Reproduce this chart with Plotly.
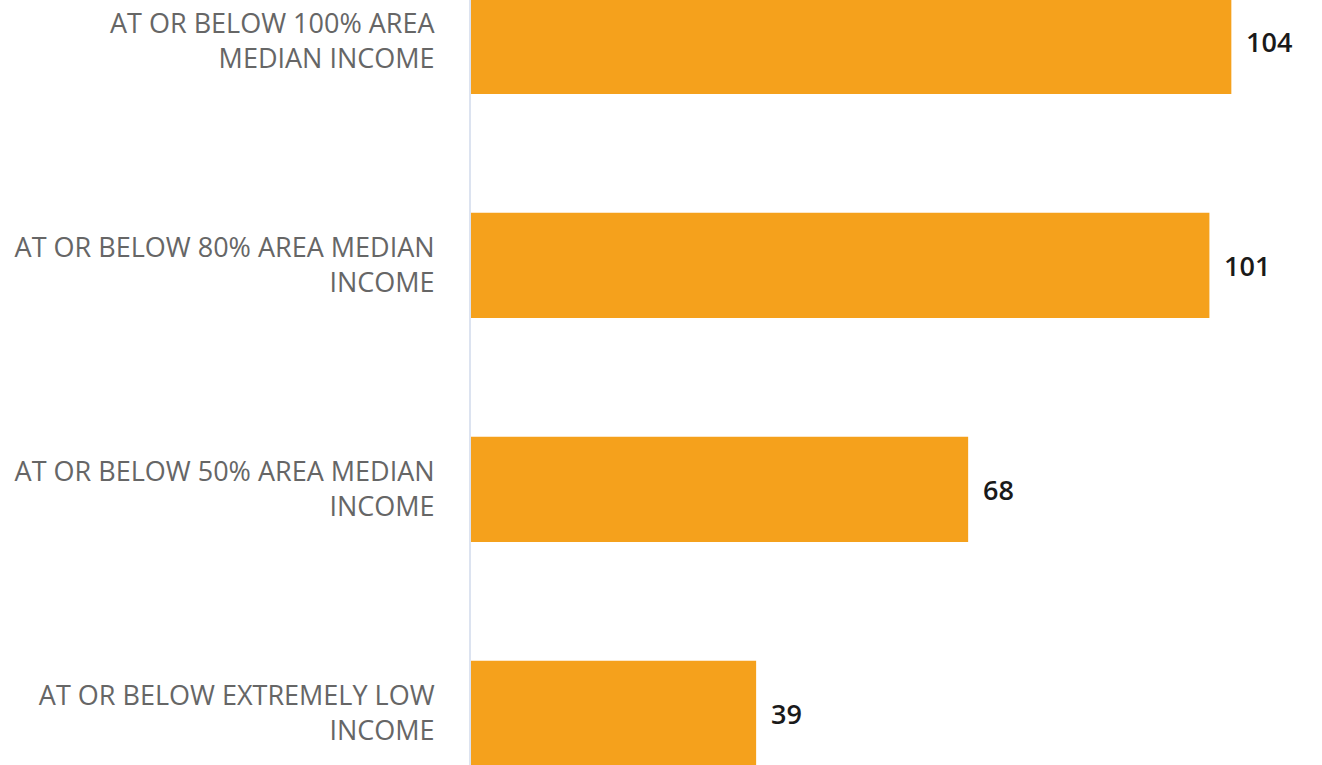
import plotly.graph_objects as go

# categories bottom -> top
categories = [
    "AT OR BELOW EXTREMELY LOW<br>INCOME",
    "AT OR BELOW 50% AREA MEDIAN<br>INCOME",
    "AT OR BELOW 80% AREA MEDIAN<br>INCOME",
    "AT OR BELOW 100% AREA<br>MEDIAN INCOME",
]
values = [39, 68, 101, 104]

BAR_COLOR = "#F5A11C"
LABEL_COLOR = "#666666"
VALUE_COLOR = "#1a1a1a"
FONT = "Open Sans, DejaVu Sans, sans-serif"

fig = go.Figure()
fig.add_trace(go.Bar(
    x=values,
    y=categories,
    orientation="h",
    marker=dict(color=BAR_COLOR, line=dict(width=0)),
    width=0.47,
    hoverinfo="skip",
))

# value labels just past the bar ends
for cat, val in zip(categories, values):
    fig.add_annotation(
        x=val, y=cat,
        text=str(val),
        showarrow=False,
        xanchor="left",
        xshift=13,
        font=dict(size=27, color=VALUE_COLOR, family=FONT, weight=600),
    )

fig.update_layout(
    width=1322,
    height=765,
    paper_bgcolor="white",
    plot_bgcolor="white",
    margin=dict(l=471, r=0, t=0, b=0),
    showlegend=False,
    xaxis=dict(
        range=[0, 116.4],
        showgrid=False, zeroline=False, showticklabels=False,
        showline=False,
    ),
    yaxis=dict(
        type="category",
        range=[-0.23, 3.185],
        showgrid=False, zeroline=False,
        showline=True, linecolor="#dce3f0", linewidth=2,
        ticks="", ticklabelstandoff=29,
        automargin=False,
        tickfont=dict(size=27, color=LABEL_COLOR, family=FONT),
    ),
)

fig.write_html(
    "out.html",
    config={"displayModeBar": False},
    post_script="document.body.style.margin='0';",
)
